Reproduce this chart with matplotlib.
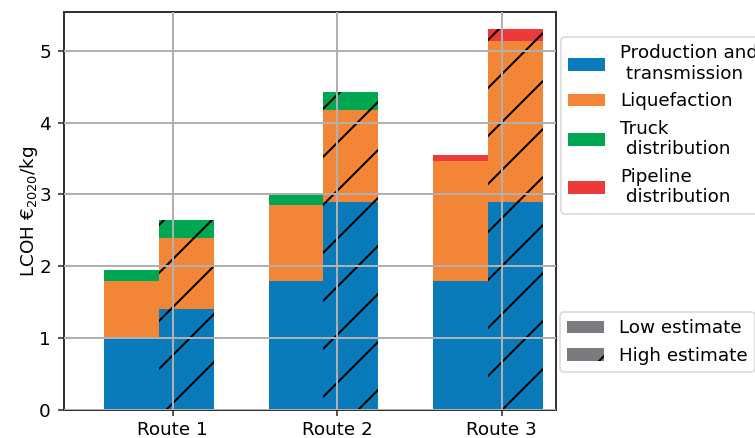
import numpy as np
import matplotlib
matplotlib.use("Agg")
import matplotlib.pyplot as plt
from matplotlib.patches import Patch

# data (LCOH, EUR2020/kg)
routes = ["Route 1", "Route 2", "Route 3"]
low_prod = [1.0, 1.8, 1.8]
low_liq = [0.8, 1.06, 1.67]
low_truck = [0.15, 0.14, 0.0]
low_pipe = [0.0, 0.0, 0.08]
high_prod = [1.4, 2.9, 2.9]
high_liq = [1.0, 1.28, 2.23]
high_truck = [0.24, 0.25, 0.0]
high_pipe = [0.0, 0.0, 0.17]

seg_names = ["Production and\n transmission", "Liquefaction",
             "Truck\n distribution", "Pipeline\n distribution"]
seg_colors = ["#0a7bba", "#f28536", "#00a651", "#ec3a3b"]

# the hatch spacing is tied to dpi, so draw at high dpi and keep sizes in px
DPI = 288
def pt(px):
    return px * 72.0 / DPI

plt.rcParams["hatch.linewidth"] = pt(2)
plt.rcParams["font.size"] = 4.6

fig = plt.figure(figsize=(755 / DPI, 438 / DPI), dpi=DPI)
ax = fig.add_axes([64 / 755, 28 / 438, 492 / 755, 398 / 438])

x = np.arange(len(routes))
w = 1 / 3
low = [low_prod, low_liq, low_truck, low_pipe]
high = [high_prod, high_liq, high_truck, high_pipe]

bottom = np.zeros(len(routes))
for vals, c in zip(low, seg_colors):
    ax.bar(x - 0.25, vals, w, bottom=bottom, color=c, linewidth=0)
    bottom += np.array(vals)

bottom = np.zeros(len(routes))
for vals, c in zip(high, seg_colors):
    ax.bar(x + w / 4, vals, w, bottom=bottom, color=c, linewidth=0, hatch="//")
    bottom += np.array(vals)

ax.set_xlim(-0.66, 2.33)
ax.set_ylim(0, 5.54)
ax.set_xticks(x, routes)
ax.set_yticks(range(6))
ax.set_ylabel("LCOH €$_{2020}$/kg", labelpad=pt(-1))
ax.set_title("Medium scenario 2030", pad=pt(11.5))

ax.set_axisbelow(False)
ax.grid(True, color="#b0b0b0", linewidth=pt(2))
ax.tick_params(length=pt(6), width=pt(1.5), pad=pt(7), colors="#222222",
               labelcolor="black")
ax.tick_params(axis="x", pad=pt(5))
for s in ax.spines.values():
    s.set_linewidth(pt(2))
    s.set_color("#333333")

h1 = [Patch(facecolor=c, label=n) for c, n in zip(seg_colors, seg_names)]
leg1 = ax.legend(handles=h1, loc="upper left", bbox_to_anchor=(1.01, 0.937),
                 borderaxespad=0)
leg1.get_frame().set_linewidth(pt(1.5))
ax.add_artist(leg1)

h2 = [Patch(facecolor="#797b7e", label="Low estimate"),
      Patch(facecolor="#797b7e", hatch="//", label="High estimate")]
leg2 = ax.legend(handles=h2, loc="upper left", bbox_to_anchor=(1.008, 0.246),
                 borderaxespad=0)
leg2.get_frame().set_linewidth(pt(1.5))

fig.savefig("out.png", dpi=DPI)
